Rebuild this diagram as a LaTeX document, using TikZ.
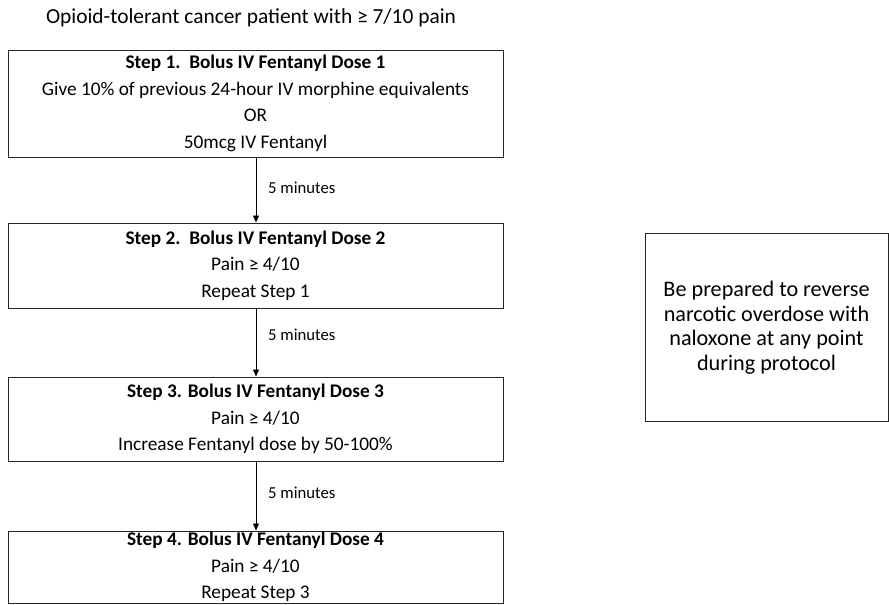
\documentclass[tikz,border=0pt]{standalone}
\usepackage{fontspec}
\setmainfont{Carlito}
\usetikzlibrary{arrows.meta}
\tikzset{
  stepbox/.style={draw=black!85, line width=1pt, minimum width=495pt, align=center, inner sep=0pt,
    font=\fontsize{19.3}{26.5}\selectfont},
  notebox/.style={draw=black!85, line width=1pt, minimum width=243pt, minimum height=188pt, align=center, inner sep=0pt,
    font=\fontsize{22.2}{24.5}\selectfont},
  conn/.style={draw=black, line width=0.8pt, -{Triangle[length=7pt,width=6pt]}},
  lbl/.style={anchor=west, inner sep=0pt, font=\fontsize{16.7}{18}\selectfont}
}
\begin{document}
\begin{tikzpicture}[x=1pt,y=-1pt]
\useasboundingbox (0,0) rectangle (889,605);
\node[font=\fontsize{21.4}{24}\selectfont] (title) at (251,18) {Opioid-tolerant cancer patient with ≥ 7/10 pain};
\node[stepbox, minimum height=107pt] (s1) at (255.5,103.5) {\textbf{Step 1.\ \ Bolus IV Fentanyl Dose 1}\\Give 10\% of previous 24-hour IV morphine equivalents\\OR\\50mcg IV Fentanyl};
\node[stepbox, minimum height=85pt] (s2) at (255.5,265.5) {\textbf{Step 2.\ \ Bolus IV Fentanyl Dose 2}\\Pain ≥ 4/10\\Repeat Step 1};
\node[stepbox, minimum height=84pt] (s3) at (255.5,419) {\textbf{Step 3. Bolus IV Fentanyl Dose 3}\\Pain ≥ 4/10\\Increase Fentanyl dose by 50-100\%};
\node[stepbox, minimum height=72pt] (s4) at (255.5,567) {\textbf{Step 4. Bolus IV Fentanyl Dose 4}\\Pain ≥ 4/10\\Repeat Step 3};
\node[notebox] (note) at (766.5,327.5) {Be prepared to reverse\\narcotic overdose with\\naloxone at any point\\during protocol};
\draw[conn] (s1.south -| 256,0) -- (s2.north -| 256,0);
\draw[conn] (s2.south -| 256,0) -- (s3.north -| 256,0);
\draw[conn] (s3.south -| 256,0) -- (s4.north -| 256,0);
\node[lbl] (m1) at (268,188) {5 minutes};
\node[lbl] (m2) at (268,335) {5 minutes};
\node[lbl] (m3) at (268,493) {5 minutes};
\end{tikzpicture}
\end{document}
